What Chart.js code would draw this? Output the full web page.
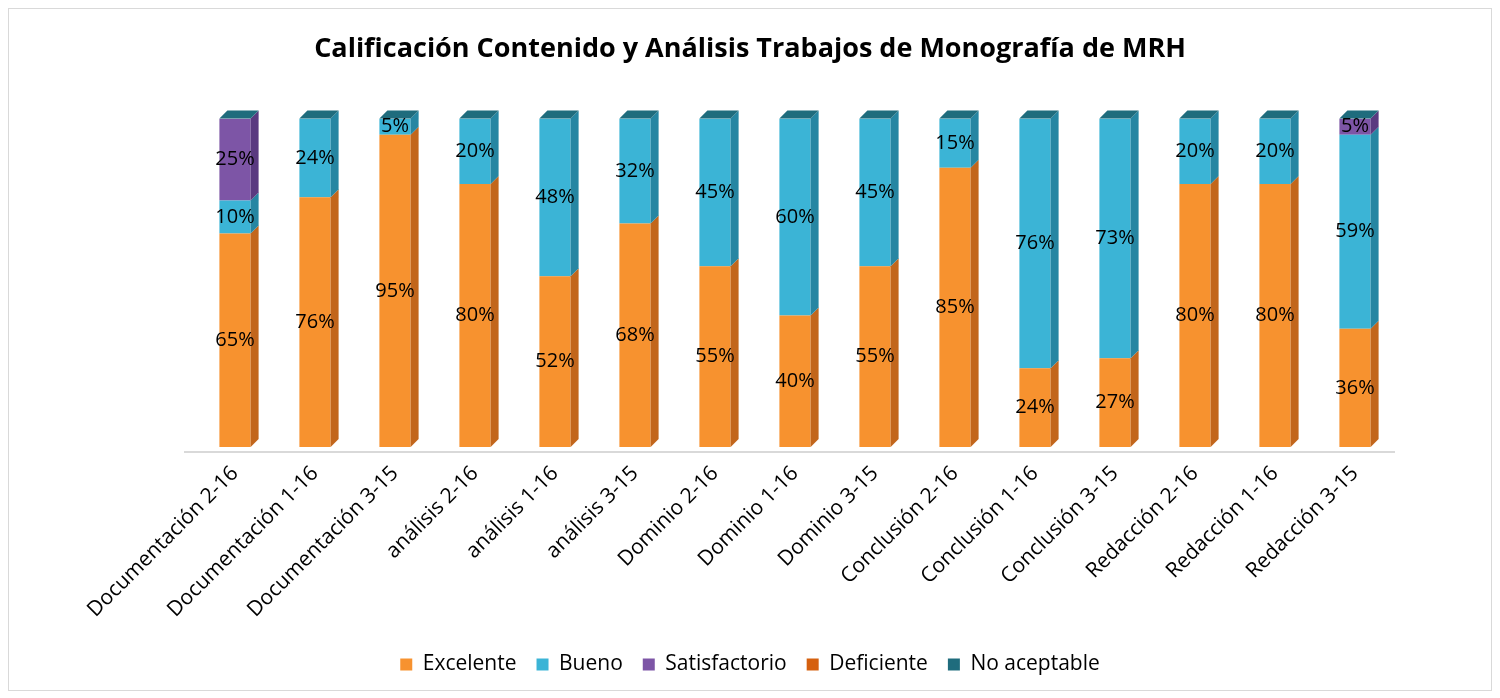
<!DOCTYPE html>
<html>
<head>
<meta charset="utf-8">
<script src="https://cdn.jsdelivr.net/npm/chart.js@4.4.1/dist/chart.umd.min.js"></script>
<style>
  body { margin: 0; background: #fff; }
  #wrap { width: 1500px; height: 698px; }
</style>
</head>
<body>
<div id="wrap"><canvas id="chart" width="1500" height="698"></canvas></div>
<script>
const categories = [
  'Documentación 2-16', 'Documentación 1-16', 'Documentación 3-15',
  'análisis 2-16', 'análisis 1-16', 'análisis 3-15',
  'Dominio 2-16', 'Dominio 1-16', 'Dominio 3-15',
  'Conclusión 2-16', 'Conclusión 1-16', 'Conclusión 3-15',
  'Redacción 2-16', 'Redacción 1-16', 'Redacción 3-15'
];
const excelente     = [65, 76, 95, 80, 52, 68, 55, 40, 55, 85, 24, 27, 80, 80, 36];
const bueno         = [10, 24, 5, 20, 48, 32, 45, 60, 45, 15, 76, 73, 20, 20, 59];
const satisfactorio = [25, 0, 0, 0, 0, 0, 0, 0, 0, 0, 0, 0, 0, 0, 5];
const deficiente    = [0, 0, 0, 0, 0, 0, 0, 0, 0, 0, 0, 0, 0, 0, 0];
const noAceptable   = [0, 0, 0, 0, 0, 0, 0, 0, 0, 0, 0, 0, 0, 0, 0];

const FONT = 'Open Sans';
const DEPTH_X = 8, DEPTH_Y = 8;
const sideColors = ['#c2661c', '#2686a2', '#5a3a80', '#a94a0c', '#164f5c'];
const topColor = '#1f6c7d';

// fake 3d: side faces, one top face per stack, then value labels
const bar3d = {
  id: 'bar3d',
  beforeDatasetsDraw(chart) {
    // floor line sits a little under the bars
    const ctx = chart.ctx, a = chart.chartArea;
    ctx.save();
    ctx.strokeStyle = '#d9d9d9';
    ctx.lineWidth = 2;
    ctx.beginPath();
    ctx.moveTo(a.left - 11, a.bottom + 5);
    ctx.lineTo(a.right, a.bottom + 5);
    ctx.stroke();
    ctx.restore();
  },
  afterDatasetsDraw(chart) {
    const ctx = chart.ctx;
    const n = chart.data.labels.length;
    ctx.save();
    for (let i = 0; i < n; i++) {
      let topEl = null;
      chart.data.datasets.forEach((ds, d) => {
        const el = chart.getDatasetMeta(d).data[i];
        if (!ds.data[i]) return;
        const r = el.x + el.width / 2;
        ctx.fillStyle = sideColors[d];
        ctx.beginPath();
        ctx.moveTo(r, el.y);
        ctx.lineTo(r + DEPTH_X, el.y - DEPTH_Y);
        ctx.lineTo(r + DEPTH_X, el.base - DEPTH_Y);
        ctx.lineTo(r, el.base);
        ctx.closePath();
        ctx.fill();
        if (!topEl || el.y < topEl.y) topEl = el;
      });
      if (topEl) {
        const l = topEl.x - topEl.width / 2, r = topEl.x + topEl.width / 2;
        ctx.fillStyle = topColor;
        ctx.beginPath();
        ctx.moveTo(l, topEl.y);
        ctx.lineTo(l + DEPTH_X, topEl.y - DEPTH_Y);
        ctx.lineTo(r + DEPTH_X, topEl.y - DEPTH_Y);
        ctx.lineTo(r, topEl.y);
        ctx.closePath();
        ctx.fill();
      }
    }
    ctx.fillStyle = '#000';
    ctx.font = '20px "' + FONT + '"';
    ctx.textAlign = 'center';
    ctx.textBaseline = 'middle';
    chart.data.datasets.forEach((ds, d) => {
      chart.getDatasetMeta(d).data.forEach((el, i) => {
        if (!ds.data[i]) return;
        ctx.fillText(ds.data[i] + '%', el.x, (el.y + el.base) / 2);
      });
    });
    ctx.restore();
  },
  afterDraw(chart) {
    const ctx = chart.ctx;
    ctx.save();
    ctx.strokeStyle = '#d9d9d9';
    ctx.lineWidth = 1;
    ctx.strokeRect(8.5, 8.5, 1483, 682);
    ctx.restore();
  }
};

new Chart(document.getElementById('chart'), {
  type: 'bar',
  data: {
    labels: categories,
    datasets: [
      { label: 'Excelente', data: excelente, backgroundColor: '#f7922f' },
      { label: 'Bueno', data: bueno, backgroundColor: '#3bb4d6' },
      { label: 'Satisfactorio', data: satisfactorio, backgroundColor: '#7d55a6' },
      { label: 'Deficiente', data: deficiente, backgroundColor: '#d5600f' },
      { label: 'No aceptable', data: noAceptable, backgroundColor: '#1f6c7d' }
    ]
  },
  options: {
    responsive: false,
    animation: false,
    layout: { padding: { left: 0, right: 0, bottom: 13 } },
    datasets: { bar: { categoryPercentage: 1, barPercentage: 0.39 } },
    plugins: {
      title: {
        display: true,
        text: 'Calificación Contenido y Análisis Trabajos de Monografía de MRH',
        color: '#000',
        font: { family: FONT, size: 27, weight: 'bold' },
        padding: { top: 33, bottom: 53 }
      },
      legend: {
        position: 'bottom',
        labels: {
          color: '#000',
          font: { family: FONT, size: 21 },
          boxWidth: 12,
          boxHeight: 12,
          padding: 20
        }
      },
      tooltip: { enabled: false }
    },
    scales: {
      x: {
        stacked: true,
        grid: { display: false },
        border: { display: false },
        ticks: {
          color: '#000',
          font: { family: FONT, size: 21 },
          minRotation: 45,
          maxRotation: 45,
          autoSkip: false,
          padding: 6
        },
        afterFit(scale) { scale.height = 187; }
      },
      y: {
        stacked: true,
        min: 0,
        max: 100,
        ticks: { display: false },
        grid: { display: false },
        border: { display: false },
        afterFit(scale) { scale.width = 195; }
      },
      yRight: {
        type: 'linear',
        position: 'right',
        ticks: { display: false },
        grid: { display: false },
        border: { display: false },
        afterFit(scale) { scale.width = 105; }
      }
    }
  },
  plugins: [bar3d]
});
</script>
</body>
</html>
